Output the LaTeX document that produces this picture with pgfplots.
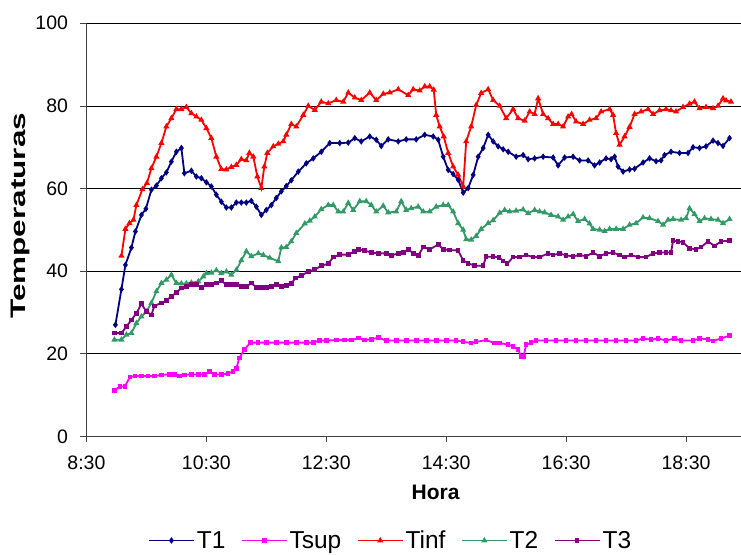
\documentclass[border=0pt]{standalone}
\usepackage{fontspec}
\setmainfont{Liberation Sans}
\usepackage{pgfplots}
\pgfplotsset{compat=1.18}
\usepackage{pgfplotstable}
\definecolor{cTone}{HTML}{000080}
\definecolor{cTsup}{HTML}{FF00FF}
\definecolor{cTinf}{HTML}{FF0000}
\definecolor{cTtwo}{HTML}{339966}
\definecolor{cTthree}{HTML}{800080}

% x = minutes after 8:30
\pgfplotstableread{
t v
29 27.0
35 35.6
39 41.5
45 45.7
49 49.6
55 53.6
59.5 55.1
65 59.7
70 60.7
75 62.5
80 63.9
85 66.5
90 68.9
95 69.8
98 63.7
105 64.3
110 62.9
115 62.5
120 61.5
125 60.5
130 58.5
135 56.8
140 55.4
145 55.4
150 56.6
155 56.6
160 56.6
165 57.0
170 55.6
175 53.6
180 54.8
185 56.0
190 57.7
195 59.3
200 60.6
205 62.0
212 64.1
220 66.1
227 67.3
235 68.9
243.5 71.0
253.5 71.0
262 71.1
268.5 72.2
275 71.4
283.5 72.6
290 71.8
295 70.3
302 71.9
312 71.4
320 71.9
330 71.9
338.5 73.0
347 72.6
352 71.8
357 67.7
362 64.5
367 63.5
372 62.1
377 59.0
382 60.1
387 63.3
392 67.7
397 69.8
402 73.0
407 71.4
412 70.2
417 69.5
422 68.9
430 67.7
437 68.1
442 67.1
448.5 67.3
457 67.7
467 67.5
472 65.6
478.5 67.5
487 67.7
493.5 66.8
502 66.8
508.5 65.6
513.5 66.3
520 67.3
525 67.1
528.5 67.7
532 65.3
537 64.1
543.5 64.6
548.5 64.8
557 66.3
563.5 67.3
570 66.6
575 66.8
578.5 68.1
585 68.9
593.5 68.6
602 68.6
607 70.0
613.5 69.8
620 70.2
627 71.6
632 71.0
637 70.3
643.5 72.2
}\tTone

\pgfplotstableread{
t v
28 11.1
33.5 12.1
38.5 12.1
43.5 14.4
48.5 14.6
55 14.6
61.5 14.6
68 14.6
75 14.9
83 15.0
88 15.0
93 14.6
98 14.9
105 15.0
112 15.0
118 15.0
123 15.7
128 15.0
135 15.0
141.5 15.2
146.5 15.7
150 16.5
153 19.0
158 21.0
164 22.7
171.5 22.7
180 22.7
190 22.7
200 22.7
210 22.7
220 22.7
227 22.7
233 23.2
240 23.2
250 23.3
258 23.3
265 23.3
272 23.8
278 23.3
285 23.5
292 23.9
300 23.2
310 23.2
320 23.2
330 23.2
340 23.2
350 23.2
360 23.2
370 23.2
377 22.9
385 22.6
390 22.9
400 23.3
408.5 22.6
413.5 22.6
422 22.2
427 21.8
432 21.0
435 19.4
437.5 19.4
440 22.2
445 22.7
450 23.2
460 23.2
470 23.2
480 23.2
490 23.2
500 23.2
510 23.2
520 23.2
530 23.2
540 23.2
550 23.2
557 23.7
565 23.4
572 23.7
580 23.2
588.5 23.7
595 23.2
607 23.2
613.5 23.7
622 23.5
627 23.1
635 23.7
643.5 24.4
}\tTsup

\pgfplotstableread{
t v
35 43.7
39 50.2
43 51.6
47 52.4
50 56.0
56 59.8
60.5 61.3
65 64.9
70 67.7
75 71.0
80 75.0
85 77.0
90 79.2
95 79.2
100 79.7
105 78.2
110 77.4
115 76.6
120 74.6
125 72.2
130 67.7
135 64.7
140 64.6
145 65.2
150 65.7
155 67.1
160 66.8
163 68.6
167 67.7
171 62.9
175 60.1
178 65.3
181 68.6
187 70.2
192 70.8
197 71.4
200 73.0
205 75.6
210 75.0
217 77.8
222 80.0
228.5 79.0
235 81.0
242 80.6
250 81.4
257 81.0
262 83.2
268.5 82.0
275 81.4
283.5 83.2
290 81.4
297 82.9
303.5 83.2
312 84.0
322 82.6
327 84.0
333.5 83.7
338.5 84.7
343.5 84.7
347.5 83.9
350 77.8
353.5 75.0
357.5 72.6
362 68.6
367 65.3
372 63.3
377 60.5
380 71.4
385 75.0
390 80.2
395 83.1
402 84.0
407 81.4
413.5 80.0
420 77.0
427 79.2
432 77.0
438.5 76.4
443.5 78.6
448.5 78.0
452 81.8
457 78.0
462 77.0
467 75.6
472 75.6
477 75.0
482 77.4
485.5 78.0
490 76.2
497 75.6
503.5 76.6
510 77.0
515 78.6
523.5 79.2
527 77.8
530 73.4
533.5 70.6
538.5 72.6
543.5 74.9
548.5 78.0
555 78.6
562 79.2
567 78.0
573.5 78.9
580 79.2
585 78.9
590 78.6
597 79.7
603.5 80.5
608.5 81.0
613.5 79.4
620 79.7
627 79.4
632 80.0
637 81.8
640 81.3
645 81.0
}\tTinf

\pgfplotstableread{
t v
28 23.4
35 23.4
40 24.6
45 25.0
50 27.4
55 29.0
60 30.2
65 32.3
70 35.1
75 37.1
80 37.9
85 39.1
90 37.1
95 37.0
100 37.0
105 37.2
112 37.5
117 38.7
120 39.5
125 39.6
130 40.2
135 39.5
140 39.9
145 39.1
150 40.3
155 42.6
160 44.8
165 43.6
172 44.3
177 43.9
183.5 43.2
192 42.4
195 45.7
200 45.8
205 47.2
210 49.2
218.5 51.5
223.5 52.2
228.5 53.2
235 55.0
242 56.0
247 56.0
252 54.4
257 54.4
262 56.5
267 54.8
273.5 56.9
280 56.9
285 56.0
290 54.4
297 55.8
302 54.2
310 54.4
315 56.9
320 54.8
325 55.2
332 55.6
337 54.4
343.5 54.4
350 55.6
357 56.0
362 56.0
367 54.4
372 51.6
377 50.0
380 47.7
385 47.6
390 48.5
395 50.2
402 51.6
407 52.3
413.5 54.1
418.5 54.8
423.5 54.4
430 54.6
437 54.9
442 54.0
448.5 54.8
453.5 54.4
458.5 54.2
465 53.6
472 53.2
477 52.4
482 53.2
487 53.8
492 52.1
498.5 52.6
503.5 51.5
507 50.2
513.5 50.0
518.5 49.7
523.5 50.2
530 50.2
537 50.2
543.5 51.2
550 51.6
557 53.0
563.5 52.8
572 52.1
577 51.2
582 52.4
587 52.6
595 52.4
600 52.8
603.5 55.2
608.5 53.8
613.5 52.1
618.5 52.8
625 52.6
632 52.4
637 51.6
643.5 52.6
}\tTtwo

\pgfplotstableread{
t v
28 25.0
35 25.0
40 26.6
45 28.2
50 29.8
55 32.1
60 30.2
65 29.4
68 31.6
75 32.3
80 32.9
85 33.9
90 34.8
95 35.9
100 36.3
105 36.7
110 36.7
115 36.1
120 36.7
125 36.7
130 37.1
135 37.7
140 36.7
145 36.7
150 36.7
155 36.3
160 36.3
165 37.1
170 36.1
175 36.1
180 36.1
185 36.3
190 36.7
195 36.3
200 36.5
205 37.0
209 38.3
215 38.9
222 39.9
228.5 40.4
235 41.3
242 41.8
247 43.4
253.5 44.0
262 44.0
268.5 44.8
272 45.3
278.5 45.0
285 44.5
292 44.3
300 44.3
305 43.8
312 44.3
317 44.5
322 45.3
327 44.3
332 43.8
337 45.8
343.5 45.3
352 46.4
357 45.3
363.5 45.1
372 45.0
377 42.6
382 41.9
388.5 41.3
397 41.3
400 43.5
407 43.5
413 43.3
417 42.5
421 41.8
427 43.4
433.5 43.4
440 43.9
447 43.4
453.5 43.4
462 44.3
467 43.9
473.5 44.3
480 43.8
487 43.6
493.5 43.9
500 43.6
507 44.5
513.5 43.6
520 44.3
527 44.5
533.5 43.9
538.5 43.4
545 43.9
552 43.4
560 43.4
567 44.3
573.5 44.5
580 44.5
585 44.5
587 47.4
592 47.2
597 47.0
603.5 45.5
610 45.3
615 45.8
622 47.2
628.5 46.1
635 47.2
643.5 47.4
}\tTthree

\begin{document}
\begin{tikzpicture}
\begin{axis}[
  width=654.5bp, height=413.4bp, scale only axis,
  xmin=0, xmax=654.5, ymin=0, ymax=100,
  xtick={0,120,240,360,480,600},
  xticklabels={8:30,10:30,12:30,14:30,16:30,18:30},
  ytick={0,20,40,60,80,100},
  axis x line*=bottom, axis y line*=left,
  axis line style={black!75, line width=1bp, -},
  tick align=outside, major tick length=6bp,
  every tick/.style={black!75, line width=0.8bp},
  ymajorgrids, major grid style={black, line width=0.75bp},
  /pgf/number format/assume math mode=true,
  tick label style={font=\fontsize{19.5bp}{23bp}\selectfont},
  yticklabel style={xshift=-9bp},
  xticklabel style={yshift=-10bp},
  xlabel={\textbf{Hora}},
  ylabel={\scalebox{1.5}[1]{\textbf{Temperaturas}}},
  xlabel style={at={(axis description cs:0.534,-0.136)}, anchor=center, font=\fontsize{21bp}{24bp}\selectfont},
  ylabel style={at={(axis description cs:-0.1005,0.534)}, anchor=center, font=\fontsize{21bp}{24bp}\selectfont},
  legend columns=5,
  legend style={at={(0.465,-0.252)}, anchor=center, draw=none, fill=none,
    font=\fontsize{24.5bp}{27bp}\selectfont,
    /tikz/every even column/.append style={column sep=13.5bp}},
  legend image code/.code={\draw[mark repeat=2,mark phase=2,#1] plot coordinates {(0bp,0bp) (22.5bp,0bp) (45bp,0bp)};},
  every axis plot/.append style={line width=1.8bp, mark size=1.8bp, mark options={solid}},
]
\addplot[color=cTone, mark=diamond*] table[x=t,y=v] {\tTone};
\addlegendentry{T1}
\addplot[color=cTsup, mark=square*, mark size=1.4bp] table[x=t,y=v] {\tTsup};
\addlegendentry{Tsup}
\addplot[color=cTinf, mark=triangle*] table[x=t,y=v] {\tTinf};
\addlegendentry{Tinf}
\addplot[color=cTtwo, mark=triangle*] table[x=t,y=v] {\tTtwo};
\addlegendentry{T2}
\addplot[color=cTthree, mark=square*, mark size=1.4bp] table[x=t,y=v] {\tTthree};
\addlegendentry{T3}
\end{axis}
\path ([shift={(-86.5bp,-113.3bp)}]current axis.south west) rectangle ++(741bp,550bp);
\end{tikzpicture}
\end{document}
